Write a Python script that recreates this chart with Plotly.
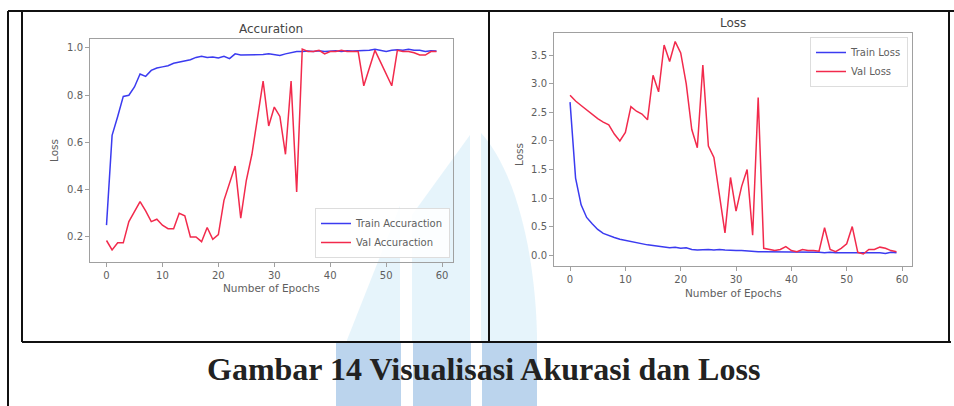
import plotly.graph_objects as go

W, H = 954, 406

epochs = list(range(60))
train_acc = [0.25, 0.63, 0.71, 0.795, 0.80, 0.835, 0.89, 0.88, 0.905, 0.915,
             0.92, 0.925, 0.935, 0.94, 0.945, 0.95, 0.96, 0.965, 0.96, 0.962,
             0.958, 0.965, 0.955, 0.975, 0.97, 0.97, 0.97, 0.97, 0.972, 0.975,
             0.972, 0.968, 0.975, 0.98, 0.985, 0.985, 0.987, 0.985, 0.988, 0.985,
             0.987, 0.988, 0.985, 0.988, 0.987, 0.988, 0.99, 0.99, 0.995, 0.99,
             0.985, 0.99, 0.992, 0.99, 0.995, 0.99, 0.99, 0.985, 0.988, 0.987]
val_acc = [0.185, 0.145, 0.175, 0.175, 0.265, 0.31, 0.35, 0.31, 0.265, 0.275,
           0.25, 0.235, 0.235, 0.30, 0.29, 0.20, 0.20, 0.18, 0.24, 0.19,
           0.21, 0.355, 0.43, 0.50, 0.28, 0.44, 0.55, 0.70, 0.86, 0.67,
           0.75, 0.71, 0.55, 0.86, 0.39, 0.995, 0.985, 0.985, 0.99, 0.975,
           0.985, 0.985, 0.99, 0.985, 0.985, 0.985, 0.84, 0.92, 0.99, 0.94,
           0.89, 0.84, 0.99, 0.985, 0.985, 0.98, 0.97, 0.97, 0.985, 0.985]
train_loss = [2.68, 1.35, 0.88, 0.66, 0.55, 0.45, 0.38, 0.34, 0.31, 0.28,
              0.26, 0.24, 0.22, 0.19, 0.18, 0.17, 0.16, 0.14, 0.13, 0.14,
              0.12, 0.13, 0.10, 0.09, 0.10, 0.10, 0.09, 0.10, 0.09, 0.08,
              0.08, 0.08, 0.07, 0.07, 0.06, 0.06, 0.06, 0.05, 0.06, 0.05,
              0.05, 0.05, 0.06, 0.05, 0.05, 0.05, 0.04, 0.05, 0.04, 0.04,
              0.04, 0.04, 0.05, 0.04, 0.04, 0.04, 0.04, 0.03, 0.05, 0.04]
val_loss = [2.80, 2.70, 2.62, 2.54, 2.46, 2.39, 2.33, 2.28, 2.12, 2.00,
            2.15, 2.60, 2.52, 2.47, 2.37, 3.15, 2.86, 3.68, 3.39, 3.74,
            3.54, 3.00, 2.20, 1.88, 3.33, 1.91, 1.71, 1.05, 0.39, 1.36,
            0.77, 1.20, 1.50, 0.35, 2.76, 0.12, 0.10, 0.08, 0.10, 0.15,
            0.08, 0.06, 0.10, 0.08, 0.08, 0.07, 0.48, 0.10, 0.06, 0.12,
            0.20, 0.50, 0.05, 0.02, 0.10, 0.10, 0.14, 0.12, 0.08, 0.06]

x_ticks = [0, 10, 20, 30, 40, 50, 60]
acc_yticks = [0.2, 0.4, 0.6, 0.8, 1.0]
loss_yticks = [0.0, 0.5, 1.0, 1.5, 2.0, 2.5, 3.0, 3.5]

acc_title = "Accuration"
loss_title = "Loss"
x_label = "Number of Epochs"
y_label = "Loss"
caption = "Gambar 14 Visualisasi Akurasi dan Loss"

BLUE = "#3b3bf0"
RED = "#f22a4c"
TXT = "#5e5e5e"


def px(x):
    return x / W


def py(y):
    return 1 - y / H


fig = go.Figure()
fig.add_trace(go.Scatter(x=epochs, y=train_acc, mode="lines", name="Train Accuraction",
                         line=dict(color=BLUE, width=1.5), xaxis="x", yaxis="y", legend="legend"))
fig.add_trace(go.Scatter(x=epochs, y=val_acc, mode="lines", name="Val Accuraction",
                         line=dict(color=RED, width=1.5), xaxis="x", yaxis="y", legend="legend"))
fig.add_trace(go.Scatter(x=epochs, y=train_loss, mode="lines", name="Train Loss",
                         line=dict(color=BLUE, width=1.5), xaxis="x2", yaxis="y2", legend="legend2"))
fig.add_trace(go.Scatter(x=epochs, y=val_loss, mode="lines", name="Val Loss",
                         line=dict(color=RED, width=1.5), xaxis="x2", yaxis="y2", legend="legend2"))

axis_common = dict(showgrid=False, zeroline=False, showline=True, mirror=True,
                   linecolor="#a0a0a0", linewidth=1, ticks="outside", ticklen=4,
                   tickcolor="#a0a0a0", tickfont=dict(family="DejaVu Sans", size=10, color=TXT))

fig.update_layout(
    width=W, height=H, autosize=False,
    margin=dict(l=0, r=0, t=0, b=0, pad=0),
    paper_bgcolor="white", plot_bgcolor="rgba(0,0,0,0)",
    xaxis=dict(domain=[px(90), px(453)], range=[-2.95, 61.95], tickvals=x_ticks,
               anchor="y", **axis_common),
    yaxis=dict(domain=[py(262), py(39)], range=[0.094, 1.038], tickvals=acc_yticks,
               tickformat=".1f", anchor="x", **axis_common),
    xaxis2=dict(domain=[px(554), px(912)], range=[-2.9, 61.8], tickvals=x_ticks,
                anchor="y2", **axis_common),
    yaxis2=dict(domain=[py(266), py(33)], range=[-0.19, 3.89], tickvals=loss_yticks,
                tickformat=".1f", anchor="x2", **axis_common),
    legend=dict(x=px(450), y=py(258), xanchor="right", yanchor="bottom",
                bgcolor="rgba(255,255,255,0.85)", bordercolor="#dddddd", borderwidth=1,
                font=dict(family="DejaVu Sans", size=10, color=TXT), itemwidth=30,
                tracegroupgap=0),
    legend2=dict(x=px(908), y=py(37), xanchor="right", yanchor="top",
                 bgcolor="rgba(255,255,255,0.85)", bordercolor="#dddddd", borderwidth=1,
                 font=dict(family="DejaVu Sans", size=10, color=TXT), itemwidth=30,
                 tracegroupgap=0),
    showlegend=True,
)


def label(text, x, y, size, color=TXT, angle=0, family="DejaVu Sans"):
    return dict(text=text, x=px(x), y=py(y), xref="paper", yref="paper",
                xanchor="center", yanchor="middle", textangle=angle,
                showarrow=False, font=dict(family=family, size=size, color=color))


ann = [
    label(acc_title, 271, 29, 12, "#444444"),
    label(loss_title, 733, 23, 12, "#444444"),
    label(x_label, 271, 288, 10.5),
    label(x_label, 733, 293, 10.5),
    label(y_label, 54, 151, 10.5, angle=-90),
    label(y_label, 519, 155, 10.5, angle=-90),
    label("<b>" + caption + "</b>", 484, 369, 32, "#222222", family="Liberation Serif"),
]
fig.update_layout(annotations=ann)


def path(points):
    s = "M %f,%f" % (px(points[0][0]), py(points[0][1]))
    for (x, y) in points[1:]:
        s += " L %f,%f" % (px(x), py(y))
    return s + " Z"


shapes = []
wm_plot = "rgba(130,200,235,0.2)"
wm_low = "rgba(120,170,220,0.5)"
for pts in ([(347, 340), (400, 206), (400, 342), (347, 342)],
            [(412, 215), (470, 135), (470, 342), (412, 342)]):
    shapes.append(dict(type="path", path=path(pts), xref="paper", yref="paper",
                       fillcolor=wm_plot, line=dict(width=0), layer="below"))
c = "M %f,%f C %f,%f %f,%f %f,%f L %f,%f L %f,%f Z" % (
    px(481), py(133), px(515), py(170), px(535), py(250), px(537), py(335),
    px(537), py(342), px(481), py(342))
shapes.append(dict(type="path", path=c, xref="paper", yref="paper",
                   fillcolor=wm_plot, line=dict(width=0), layer="below"))
for (x0, x1) in ((336, 401), (413, 471), (482, 537)):
    shapes.append(dict(type="rect", x0=px(x0), x1=px(x1), y0=py(406), y1=py(343),
                       xref="paper", yref="paper", fillcolor=wm_low, line=dict(width=0),
                       layer="below"))

borders = [(8, 11, 8, 406), (8, 11, 954, 11), (22, 11, 22, 342),
           (489, 11, 489, 342), (949, 11, 949, 342), (22, 342, 951, 342)]
for (x0, y0, x1, y1) in borders:
    shapes.append(dict(type="line", x0=px(x0), y0=py(y0), x1=px(x1), y1=py(y1),
                       xref="paper", yref="paper", line=dict(color="#111111", width=2),
                       layer="above"))
fig.update_layout(shapes=shapes)

fig.write_html("out.html", config={"displayModeBar": False},
               post_script="document.body.style.margin='0px';document.body.style.overflow='hidden';")
